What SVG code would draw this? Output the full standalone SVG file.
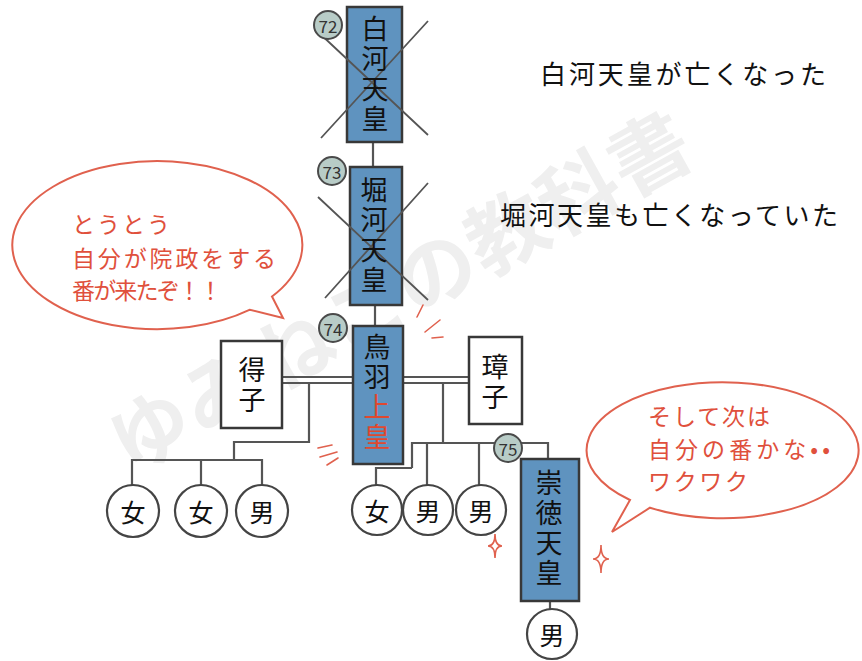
<svg xmlns="http://www.w3.org/2000/svg" width="862" height="661" viewBox="0 0 862 661">
<style>
.jp{font-family:"Noto Sans CJK JP","Noto Sans CJK SC",sans-serif}
.emp{fill:#5f93bf;stroke:#383838;stroke-width:2.5}
.wbox{fill:#fff;stroke:#383838;stroke-width:2.5}
.num{fill:#b8ccc7;stroke:#4a4a4a;stroke-width:2}
.numt{font-size:17px;fill:#333;text-anchor:middle;dominant-baseline:central}
.vt{font-size:27px;fill:#111;text-anchor:middle;writing-mode:vertical-rl;letter-spacing:3px}
.red{fill:#e0482f}
.ln{stroke:#555;stroke-width:2.2;fill:none}
.cross{stroke:#555;stroke-width:1.8}
.bub{fill:#fff;stroke:#e0614e;stroke-width:2}
.bt{font-size:23px;fill:#e0503c;dominant-baseline:central}
.lab{font-size:26px;fill:#111;dominant-baseline:central}
.kid{fill:#fff;stroke:#444;stroke-width:2.2}
.kt{font-size:25px;fill:#111;text-anchor:middle;dominant-baseline:central}
.rm{stroke:#e0614e;stroke-width:1.6;fill:none;stroke-linecap:round}
</style>
<rect width="862" height="661" fill="#fff"/>
<text class="jp" x="130" y="475" font-size="80" font-weight="bold" fill="#efefef" textLength="650" lengthAdjust="spacing" transform="rotate(-29 130 475)">ゆみねこの教科書</text>

<g id="bubble-left">
<path class="bub" d="M250,309.7 A145 84 0 1 1 272,296.5 L283,318 Z"/>
<text class="jp bt" x="72" y="223" textLength="98" lengthAdjust="spacing">とうとう</text>
<text class="jp bt" x="72" y="257" textLength="204" lengthAdjust="spacing">自分が院政をする</text>
<text class="jp bt" x="72" y="289" textLength="150" lengthAdjust="spacing">番が来たぞ！！</text>
</g>
<g id="bubble-right">
<path class="bub" d="M630,500 A136 68 0 1 1 650,507.7 L612,532 Z"/>
<text class="jp bt" x="648" y="415" textLength="122" lengthAdjust="spacing">そして次は</text>
<text class="jp bt" x="648" y="448" textLength="182" lengthAdjust="spacing">自分の番かな••</text>
<text class="jp bt" x="648" y="480" textLength="100" lengthAdjust="spacing">ワクワク</text>
</g>

<g id="label-shirakawa"><text class="jp lab" x="540" y="72" textLength="286" lengthAdjust="spacing">白河天皇が亡くなった</text></g>
<g id="label-horikawa"><text class="jp lab" x="500" y="213" textLength="338" lengthAdjust="spacing">堀河天皇も亡くなっていた</text></g>

<g id="connectors">
<path class="ln" d="M373,142 V168"/>
<path class="ln" d="M375,305 V326"/>
<path class="ln" d="M282,377 H353 M282,383 H353"/>
<path class="ln" d="M403,377 H469 M403,383 H469"/>
<path class="ln" d="M309,383 V442 H234 V460"/>
<path class="ln" d="M132,485 V460 H262 V485 M201,460 V485"/>
<path class="ln" d="M443,383 V443"/>
<path class="ln" d="M412,468 V443 H496 M520,443 H548 V459"/>
<path class="ln" d="M412,468 H376 V485"/>
<path class="ln" d="M427,443 V485 M479,443 V485"/>
<path class="ln" d="M550,601 V609"/>
</g>

<g id="marks">
<path class="rm" d="M417,317 L423,305 M425,332 L440,320 M432,338 L443,337"/>
<path class="rm" d="M318,448 L332,445 M320,457 L337,452 M327,465 L338,458"/>
<path class="rm" d="M495,534 Q495,546 502,546 Q495,546 495,558 Q495,546 488,546 Q495,546 495,534 Z"/>
<path class="rm" d="M601,545 Q601,559 609,559 Q601,559 601,573 Q601,559 593,559 Q601,559 601,545 Z"/>
</g>

<g id="n72">
<rect class="emp" x="347" y="7" width="55" height="135"/>
<path class="cross" d="M321,138 L428,21 M316,30 L428,135"/>
<circle class="num" cx="328" cy="25" r="14"/>
<text class="jp numt" x="328" y="25">72</text>
<text class="jp vt" x="375" y="75">白河天皇</text>
</g>

<g id="n73">
<rect class="emp" x="350" y="167" width="52" height="138"/>
<path class="cross" d="M318,197 L428,300 M325,298 L428,183"/>
<circle class="num" cx="332" cy="171" r="14"/>
<text class="jp numt" x="332" y="171">73</text>
<text class="jp vt" x="374" y="236">堀河天皇</text>
</g>

<g id="n74">
<rect class="emp" x="353" y="326" width="50" height="138"/>
<circle class="num" cx="333" cy="328" r="14"/>
<text class="jp numt" x="333" y="328">74</text>
<text class="jp vt" x="377" y="393">鳥羽<tspan class="red">上皇</tspan></text>
</g>

<g id="n-tokushi">
<rect class="wbox" x="221" y="341" width="61" height="87"/>
<text class="jp vt" x="252" y="386">得子</text>
</g>

<g id="n-shoshi">
<rect class="wbox" x="469" y="337" width="53" height="87"/>
<text class="jp vt" x="495" y="383">璋子</text>
</g>

<g id="n75">
<rect class="emp" x="521" y="459" width="58" height="142"/>
<circle class="num" cx="508" cy="448" r="14"/>
<text class="jp numt" x="508" y="448">75</text>
<text class="jp vt" x="549" y="529">崇徳天皇</text>
</g>

<g id="c1"><circle class="kid" cx="133" cy="511" r="26"/><text class="jp kt" x="133" y="511">女</text></g>
<g id="c2"><circle class="kid" cx="201" cy="511" r="26"/><text class="jp kt" x="201" y="511">女</text></g>
<g id="c3"><circle class="kid" cx="262" cy="511" r="26"/><text class="jp kt" x="262" y="511">男</text></g>
<g id="c4"><circle class="kid" cx="377" cy="510" r="25"/><text class="jp kt" x="377" y="510">女</text></g>
<g id="c5"><circle class="kid" cx="428" cy="510" r="25"/><text class="jp kt" x="428" y="510">男</text></g>
<g id="c6"><circle class="kid" cx="481" cy="510" r="25"/><text class="jp kt" x="481" y="510">男</text></g>
<g id="c7"><circle class="kid" cx="552" cy="634" r="25"/><text class="jp kt" x="552" y="634">男</text></g>
</svg>
